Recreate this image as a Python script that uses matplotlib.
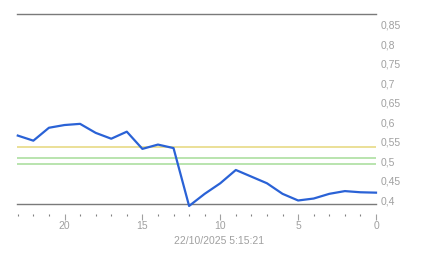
import matplotlib
matplotlib.use("Agg")
import matplotlib.pyplot as plt
import numpy as np

# hours ago (x, inverted axis) and value
hours = [23, 22, 21, 20, 19, 18, 17, 16, 15, 14, 13, 12, 11, 10, 9, 8, 7, 6, 5, 4, 3, 2, 1, 0]
values = [0.566, 0.553, 0.586, 0.593, 0.596, 0.573, 0.558, 0.576, 0.532, 0.543, 0.534, 0.386,
          0.417, 0.444, 0.478, 0.461, 0.444, 0.417, 0.400, 0.405, 0.417, 0.424, 0.421, 0.420]

ref_levels = [0.536, 0.508, 0.493]
ref_colors = ['#e6d77a', '#a6dc98', '#a6dc98']

y_ticks = [0.4, 0.45, 0.5, 0.55, 0.6, 0.65, 0.7, 0.75, 0.8, 0.85]
y_labels = ['0,4', '0,45', '0,5', '0,55', '0,6', '0,65', '0,7', '0,75', '0,8', '0,85']
x_ticks = [20, 15, 10, 5, 0]
timestamp = '22/10/2025 5:15:21'

plt.rcParams['font.family'] = ['Liberation Sans', 'DejaVu Sans']
grey = '#a0a0a0'

fig = plt.figure(figsize=(4.43, 2.58), dpi=100)
ax = fig.add_axes([17 / 443, 1 - 204 / 258, (376 - 17) / 443, (204 - 14) / 258])

for lvl, c in zip(ref_levels, ref_colors):
    ax.axhline(lvl, color=c, lw=1.1, zorder=1)

ax.plot(hours, values, color='#2a62d6', lw=1.6, zorder=3, clip_on=False)

ax.set_xlim(23.05, 0)
ax.set_ylim(0.391, 0.877)

ax.axhline(0.877, color='#7a7a7a', lw=1.0, zorder=2, clip_on=False)
ax.axhline(0.391, color='#7a7a7a', lw=1.0, zorder=2, clip_on=False)

for s in ['top', 'left', 'right']:
    ax.spines[s].set_visible(False)
ax.spines['bottom'].set_position(('outward', 7))
ax.spines['bottom'].set_visible(False)

ax.set_xticks(x_ticks)
ax.set_xticklabels([str(t) for t in x_ticks])
ax.set_xticks(range(0, 24), minor=True)
ax.tick_params(axis='x', which='major', length=4, width=0.8, color=grey, labelcolor=grey,
               labelsize=7.5, pad=1)
ax.tick_params(axis='x', which='minor', length=1.5, width=0.8, color='#808080')

ax.yaxis.tick_right()
ax.set_yticks(y_ticks)
ax.set_yticklabels(y_labels)
ax.tick_params(axis='y', length=0, pad=3, labelcolor=grey, labelsize=7.5)

fig.text(219.5 / 443, 1 - 240.5 / 258, timestamp, ha='center', va='center',
         color=grey, fontsize=7.5)

fig.savefig('out.png', dpi=100)
